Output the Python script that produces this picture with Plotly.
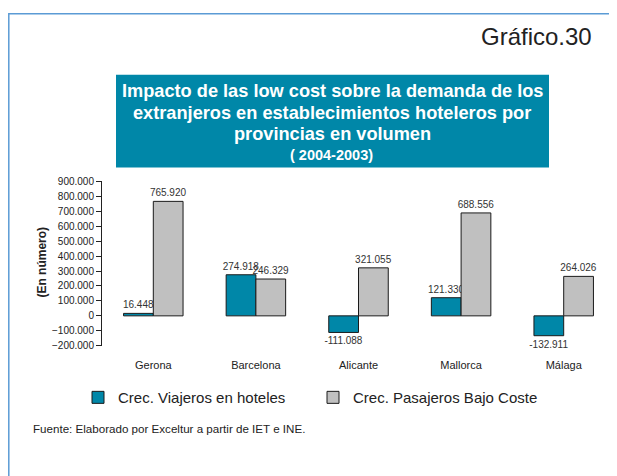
import plotly.graph_objects as go

categories = ["Gerona", "Barcelona", "Alicante", "Mallorca", "Málaga"]
viajeros = [16448, 274918, -111088, 121330, -132911]
pasajeros = [765920, 246329, 321055, 688556, 264026]
series_names = ["Crec. Viajeros en hoteles", "Crec. Pasajeros Bajo Coste"]
title_lines = ["Impacto de las low cost sobre la demanda de los",
               "extranjeros en establecimientos hoteleros por",
               "provincias en volumen"]
subtitle = "( 2004-2003)"
y_range = [-200000, 900000]
y_dtick = 100000

W, H = 617, 476
OFF = 8  # page body margin
FW, FH = W - OFF, H - OFF
TEAL = "#0087A8"
GRAY = "#C0C0C0"
FONT = "Liberation Sans, Arial, sans-serif"

def px(x):
    return (x - OFF) / FW

def py(y):
    return 1 - (y - OFF) / FH

x_dom = [px(102), px(615)]
y_dom = [py(348), py(180)]
zero_pos = y_dom[0] + (y_dom[1] - y_dom[0]) * (0 - y_range[0]) / (y_range[1] - y_range[0])

fig = go.Figure()
for name, vals, col in [(series_names[0], viajeros, TEAL), (series_names[1], pasajeros, GRAY)]:
    fig.add_trace(go.Bar(
        x=categories, y=vals, name=name,
        marker=dict(color=col, line=dict(color="#1a1a1a", width=1)),
        texttemplate="%{y:,.0f}", textposition="outside",
        textfont=dict(size=10, color="#333333", family=FONT),
        constraintext="none", cliponaxis=False,
    ))

boundaries = [i - 0.5 for i in range(len(categories) + 1)]

annotations = [
    dict(text="Gráfico.30", xref="paper", yref="paper", x=px(594), y=py(32),
         xanchor="right", yanchor="middle", showarrow=False,
         font=dict(size=24, color="#222222", family=FONT)),
]
for line, yy in zip(title_lines, [88, 110, 132]):
    annotations.append(dict(text="<b>" + line + "</b>", xref="paper", yref="paper",
                            x=px(332), y=py(yy), xanchor="center", yanchor="middle",
                            showarrow=False, font=dict(size=18.2, color="white", family=FONT)))
annotations += [
    dict(text="<b>" + subtitle + "</b>", xref="paper", yref="paper", x=px(331), y=py(153),
         xanchor="center", yanchor="middle", showarrow=False,
         font=dict(size=14.5, color="white", family=FONT)),
    dict(text="<b>(En número)</b>", xref="paper", yref="paper", x=px(42), y=py(263),
         xanchor="center", yanchor="middle", textangle=-90, showarrow=False,
         font=dict(size=12, color="#222222", family=FONT)),
    dict(text="Fuente: Elaborado por Exceltur a partir de IET e INE.", xref="paper", yref="paper",
         x=px(31), y=py(433), xanchor="left", yanchor="middle", showarrow=False,
         font=dict(size=11.6, color="#222222", family=FONT)),
]

fig.update_layout(
    width=FW, height=FH,
    margin=dict(l=0, r=0, t=0, b=0),
    paper_bgcolor="white", plot_bgcolor="white",
    separators=",.",
    barmode="group", bargap=0.42, bargroupgap=0,
    font=dict(family=FONT, color="#222222"),
    xaxis=dict(domain=x_dom, anchor="y", showline=False, ticks="", showgrid=False,
               tickfont=dict(size=11, color="#222222"), ticklabelstandoff=11),
    xaxis2=dict(domain=x_dom, overlaying="x", anchor="free", position=zero_pos,
                range=[-0.5, len(categories) - 0.5], tickmode="array", tickvals=boundaries,
                showticklabels=False, showline=True, linecolor="#222222", linewidth=1,
                ticks="outside", ticklen=5, tickcolor="#222222", showgrid=False, zeroline=False),
    yaxis=dict(domain=y_dom, range=y_range, dtick=y_dtick, tickformat=",.0f",
               showline=True, linecolor="#222222", ticks="outside", ticklen=5,
               tickcolor="#222222", showgrid=False, zeroline=False,
               tickfont=dict(size=10, color="#222222")),
    legend=dict(orientation="h", x=px(313), xanchor="center", y=py(401), yanchor="middle",
                font=dict(size=15, color="#222222"), entrywidth=190, itemwidth=30,
                bgcolor="rgba(0,0,0,0)"),
    shapes=[
        dict(type="rect", xref="paper", yref="paper", x0=px(8.8), x1=px(640), y0=py(500), y1=py(8.8),
             line=dict(color="#5B9BD5", width=1.5), fillcolor="rgba(0,0,0,0)", layer="below"),
        dict(type="rect", xref="paper", yref="paper", x0=px(116), x1=px(549), y0=py(166), y1=py(71),
             line=dict(width=0), fillcolor=TEAL, layer="below"),
    ],
    annotations=annotations,
)

fig.write_html("out.html")
